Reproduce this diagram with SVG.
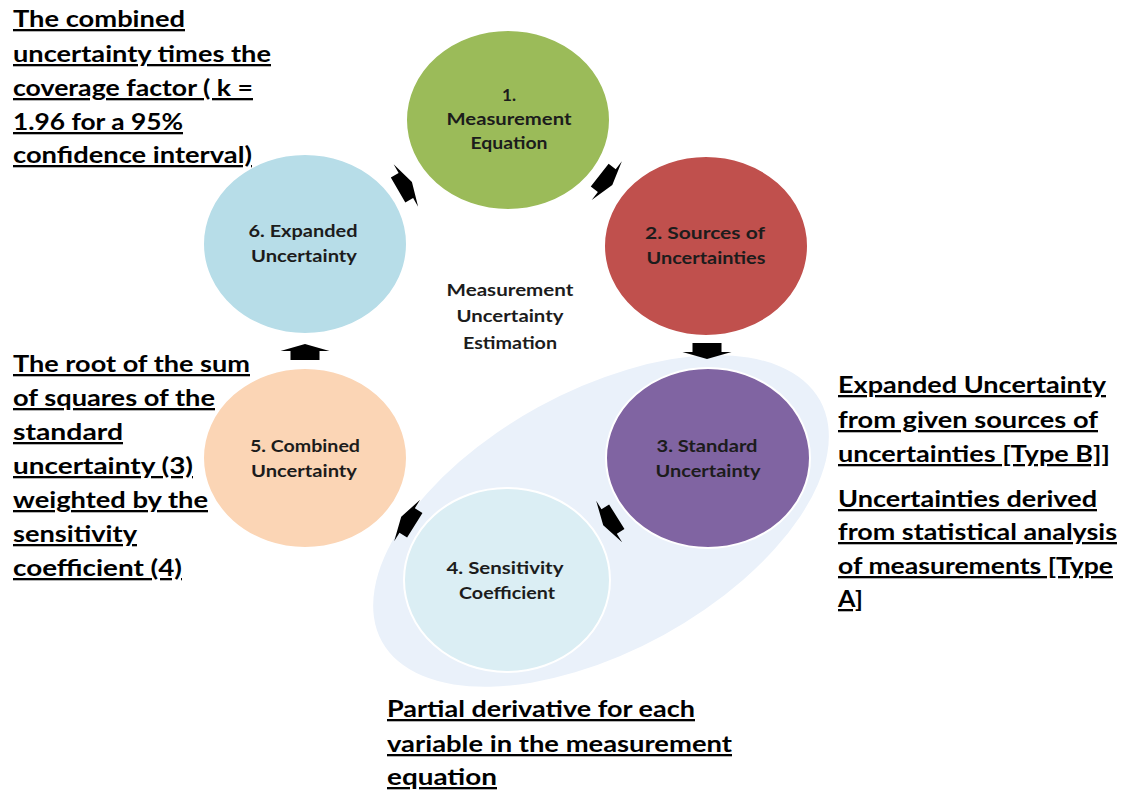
<svg xmlns="http://www.w3.org/2000/svg" width="1124" height="797" viewBox="0 0 1124 797">
<defs>
<style>
.bg{fill:#ffffff}
.node{stroke:#ffffff;stroke-width:2}
.lbl{font-family:Lato,"Liberation Sans",sans-serif;font-weight:bold;font-size:17px;fill:#1c1c1c;text-anchor:middle}
.note{font-family:Lato,"Liberation Sans",sans-serif;font-weight:bold;font-size:23px;fill:#000000;text-decoration:underline}
.arr{fill:#000000}
</style>
<path id="blk" d="M-8,-14.5 H1 V-24.5 L8,0 L1,24.5 V14.5 H-8 Z"/>
</defs>
<rect class="bg" x="0" y="0" width="1124" height="797"/>

<g id="group-ellipse">
<ellipse cx="601" cy="521" rx="250" ry="130" transform="rotate(-28.8 601 521)" fill="#eaf1fa"/>
</g>

<g id="node1">
<ellipse class="node" cx="508" cy="120" rx="102" ry="90" fill="#9bbb59"/>
<text class="lbl" x="509" y="101" textLength="14" lengthAdjust="spacingAndGlyphs">1.</text>
<text class="lbl" x="509" y="125" textLength="125" lengthAdjust="spacingAndGlyphs">Measurement</text>
<text class="lbl" x="509" y="149" textLength="77" lengthAdjust="spacingAndGlyphs">Equation</text>
</g>
<g id="node2">
<ellipse class="node" cx="706" cy="246" rx="102" ry="90" fill="#c0504d"/>
<text class="lbl" x="705" y="239" textLength="120" lengthAdjust="spacingAndGlyphs">2. Sources of</text>
<text class="lbl" x="706" y="264" textLength="119" lengthAdjust="spacingAndGlyphs">Uncertainties</text>
</g>
<g id="node3">
<ellipse class="node" cx="708" cy="458" rx="102" ry="90" fill="#8064a2"/>
<text class="lbl" x="707" y="452" textLength="101" lengthAdjust="spacingAndGlyphs">3. Standard</text>
<text class="lbl" x="708" y="477" textLength="105" lengthAdjust="spacingAndGlyphs">Uncertainty</text>
</g>
<g id="node4">
<ellipse class="node" cx="507" cy="580" rx="103" ry="92" fill="#dbeef4"/>
<text class="lbl" x="505" y="574" textLength="117" lengthAdjust="spacingAndGlyphs">4. Sensitivity</text>
<text class="lbl" x="507" y="599" textLength="96" lengthAdjust="spacingAndGlyphs">Coefficient</text>
</g>
<g id="node5">
<ellipse class="node" cx="305" cy="458" rx="102" ry="90" fill="#fbd5b5"/>
<text class="lbl" x="305" y="452" textLength="110" lengthAdjust="spacingAndGlyphs">5. Combined</text>
<text class="lbl" x="304" y="477" textLength="106" lengthAdjust="spacingAndGlyphs">Uncertainty</text>
</g>
<g id="node6">
<ellipse class="node" cx="305" cy="244" rx="102" ry="90" fill="#b7dde8"/>
<text class="lbl" x="303" y="237" textLength="109" lengthAdjust="spacingAndGlyphs">6. Expanded</text>
<text class="lbl" x="304" y="262" textLength="106" lengthAdjust="spacingAndGlyphs">Uncertainty</text>
</g>
<g id="center-label">
<text class="lbl" x="510" y="296" textLength="127" lengthAdjust="spacingAndGlyphs">Measurement</text>
<text class="lbl" x="510" y="322" textLength="107" lengthAdjust="spacingAndGlyphs">Uncertainty</text>
<text class="lbl" x="510" y="349" textLength="94" lengthAdjust="spacingAndGlyphs">Estimation</text>
</g>

<g id="connectors">
<use href="#blk" class="arr" transform="translate(405 186) rotate(-30)"/>
<use href="#blk" class="arr" transform="translate(606 180) rotate(38)"/>
<use href="#blk" class="arr" transform="translate(707 351) rotate(90)"/>
<use href="#blk" class="arr" transform="translate(610 521) rotate(148)"/>
<use href="#blk" class="arr" transform="translate(408 521) rotate(212)"/>
<use href="#blk" class="arr" transform="translate(305 352) rotate(-90)"/>
</g>

<g id="note-expanded">
<text class="note" x="13" y="27" textLength="172" lengthAdjust="spacingAndGlyphs">The combined</text>
<text class="note" x="13" y="62" textLength="258" lengthAdjust="spacingAndGlyphs">uncertainty times the</text>
<text class="note" x="13" y="96" textLength="240" lengthAdjust="spacingAndGlyphs">coverage factor ( k =</text>
<text class="note" x="13" y="130" textLength="170" lengthAdjust="spacingAndGlyphs">1.96 for a 95%</text>
<text class="note" x="13" y="163" textLength="239" lengthAdjust="spacingAndGlyphs">confidence interval)</text>
</g>
<g id="note-combined">
<text class="note" x="13" y="372" textLength="237" lengthAdjust="spacingAndGlyphs">The root of the sum</text>
<text class="note" x="13" y="406" textLength="202" lengthAdjust="spacingAndGlyphs">of squares of the</text>
<text class="note" x="13" y="440" textLength="110" lengthAdjust="spacingAndGlyphs">standard</text>
<text class="note" x="13" y="474" textLength="180" lengthAdjust="spacingAndGlyphs">uncertainty (3)</text>
<text class="note" x="13" y="508" textLength="195" lengthAdjust="spacingAndGlyphs">weighted by the</text>
<text class="note" x="13" y="542" textLength="124" lengthAdjust="spacingAndGlyphs">sensitivity</text>
<text class="note" x="13" y="576" textLength="169" lengthAdjust="spacingAndGlyphs">coefficient (4)</text>
</g>
<g id="note-standard">
<text class="note" x="838" y="393" textLength="268" lengthAdjust="spacingAndGlyphs">Expanded Uncertainty</text>
<text class="note" x="838" y="428" textLength="260" lengthAdjust="spacingAndGlyphs">from given sources of</text>
<text class="note" x="838" y="462" textLength="272" lengthAdjust="spacingAndGlyphs">uncertainties [Type B]]</text>
<text class="note" x="838" y="507" textLength="259" lengthAdjust="spacingAndGlyphs">Uncertainties derived</text>
<text class="note" x="838" y="540" textLength="279" lengthAdjust="spacingAndGlyphs">from statistical analysis</text>
<text class="note" x="838" y="574" textLength="275" lengthAdjust="spacingAndGlyphs">of measurements [Type</text>
<text class="note" x="838" y="607" textLength="25" lengthAdjust="spacingAndGlyphs">A]</text>
</g>
<g id="note-sensitivity">
<text class="note" x="387" y="717" textLength="308" lengthAdjust="spacingAndGlyphs">Partial derivative for each</text>
<text class="note" x="387" y="752" textLength="345" lengthAdjust="spacingAndGlyphs">variable in the measurement</text>
<text class="note" x="387" y="785" textLength="110" lengthAdjust="spacingAndGlyphs">equation</text>
</g>
</svg>
